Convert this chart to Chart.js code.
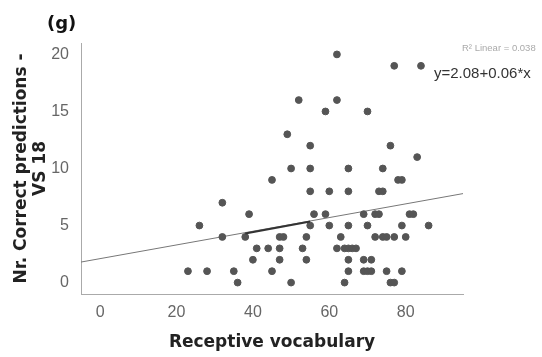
<!DOCTYPE html>
<html>
<head>
<meta charset="utf-8">
<script src="https://cdn.jsdelivr.net/npm/chart.js@4"></script>
<style>
  html, body { margin: 0; padding: 0; background: #fff; }
  #wrap { width: 542px; height: 357px; }
</style>
</head>
<body>
<div id="wrap"><canvas id="myChart" width="542" height="357"></canvas></div>
<script>
// receptive vocabulary (x) vs correct predictions VS 18 (y)
const vocab = [62, 77, 84, 52, 62, 59, 70, 49, 55, 76, 83, 50, 55, 65, 74, 45, 78, 79,
  55, 60, 65, 73, 74, 32, 39, 56, 59, 69, 72, 73, 81, 82, 26, 55, 60, 65, 70, 79, 86,
  32, 38, 47, 48, 54, 63, 72, 74, 75, 77, 80, 41, 44, 47, 53, 62, 64, 65, 66, 67,
  40, 47, 54, 65, 69, 71, 23, 28, 35, 45, 65, 69, 70, 71, 75, 79, 36, 50, 64, 76, 77]
const correct = [20, 19, 19, 16, 16, 15, 15, 13, 12, 12, 11, 10, 10, 10, 10, 9, 9, 9,
  8, 8, 8, 8, 8, 7, 6, 6, 6, 6, 6, 6, 6, 6, 5, 5, 5, 5, 5, 5, 5,
  4, 4, 4, 4, 4, 4, 4, 4, 4, 4, 4, 3, 3, 3, 3, 3, 3, 3, 3, 3,
  2, 2, 2, 2, 2, 2, 1, 1, 1, 1, 1, 1, 1, 1, 1, 1, 0, 0, 0, 0, 0]

// fit line ends and the darker piece of it
const fitX = [-5, 95]
const fitY = [1.8, 7.8]
const darkX = [38, 55]
const darkY = [4.3, 5.35]

const xTicks = [0, 20, 40, 60, 80]
const yTicks = [0, 5, 10, 15, 20]

const pts = vocab.map((v, i) => ({x: v, y: correct[i]}))
const fit = fitX.map((v, i) => ({x: v, y: fitY[i]}))
const dark = darkX.map((v, i) => ({x: v, y: darkY[i]}))

const textBits = {
  id: 'textBits',
  afterDraw(c) {
    const ctx = c.ctx
    ctx.save()
    ctx.textBaseline = 'alphabetic'
    ctx.fillStyle = '#111'
    ctx.font = 'bold 18px "DejaVu Sans", sans-serif'
    ctx.fillText('(g)', 47, 29)
    ctx.fillStyle = '#aaa'
    ctx.font = '9.5px "Liberation Sans", Arial, sans-serif'
    ctx.fillText('R\u00b2 Linear = 0.038', 462, 51)
    ctx.fillStyle = '#333'
    ctx.font = '15px "Liberation Sans", Arial, sans-serif'
    ctx.fillText('y=2.08+0.06*x', 434, 78)
    ctx.restore()
  }
}

const chart = document.getElementById('myChart')

const config = {
  type: 'scatter',
  data: {
    datasets: [
      {
        label: 'points',
        data: pts,
        backgroundColor: '#555',
        borderColor: '#555',
        pointRadius: 3.4,
        pointHoverRadius: 3.4,
        order: 1
      },
      {
        type: 'line',
        label: 'fit',
        data: fit,
        borderColor: '#777',
        borderWidth: 1,
        pointRadius: 0,
        fill: false,
        order: 2
      },
      {
        type: 'line',
        label: 'fit dark',
        data: dark,
        borderColor: '#333',
        borderWidth: 2,
        pointRadius: 0,
        fill: false,
        order: 0
      }
    ]
  },
  options: {
    responsive: false,
    animation: false,
    layout: { padding: { top: 43, right: 79, left: 0, bottom: 0 } },
    plugins: {
      legend: { display: false },
      tooltip: { enabled: false }
    },
    scales: {
      x: {
        type: 'linear',
        min: -5,
        max: 95,
        afterBuildTicks: s => { s.ticks = xTicks.map(v => ({value: v})) },
        afterFit: s => { s.height = 63 },
        grid: { display: false },
        border: { display: true, color: '#aaa', width: 1 },
        ticks: {
          color: '#666',
          padding: 1,
          font: { family: '"Liberation Sans", Arial, sans-serif', size: 16 }
        },
        title: {
          display: true,
          text: 'Receptive vocabulary',
          color: '#222',
          padding: { top: 0, bottom: 4 },
          font: { family: '"DejaVu Sans", sans-serif', size: 17, weight: 'bold' }
        }
      },
      y: {
        type: 'linear',
        min: -1,
        max: 21,
        afterBuildTicks: s => { s.ticks = yTicks.map(v => ({value: v})) },
        afterFit: s => { s.width = 81 },
        grid: { display: false },
        border: { display: true, color: '#aaa', width: 1 },
        ticks: {
          color: '#666',
          padding: 4,
          font: { family: '"Liberation Sans", Arial, sans-serif', size: 16 }
        },
        title: {
          display: true,
          text: ['Nr. Correct predictions -', 'VS 18'],
          color: '#222',
          padding: { top: 12, bottom: 0 },
          font: { family: '"DejaVu Sans", sans-serif', size: 17, weight: 'bold', lineHeight: 1.12 }
        }
      }
    }
  },
  plugins: [textBits]
}

const myChart = new Chart(chart, config)
</script>
</body>
</html>
